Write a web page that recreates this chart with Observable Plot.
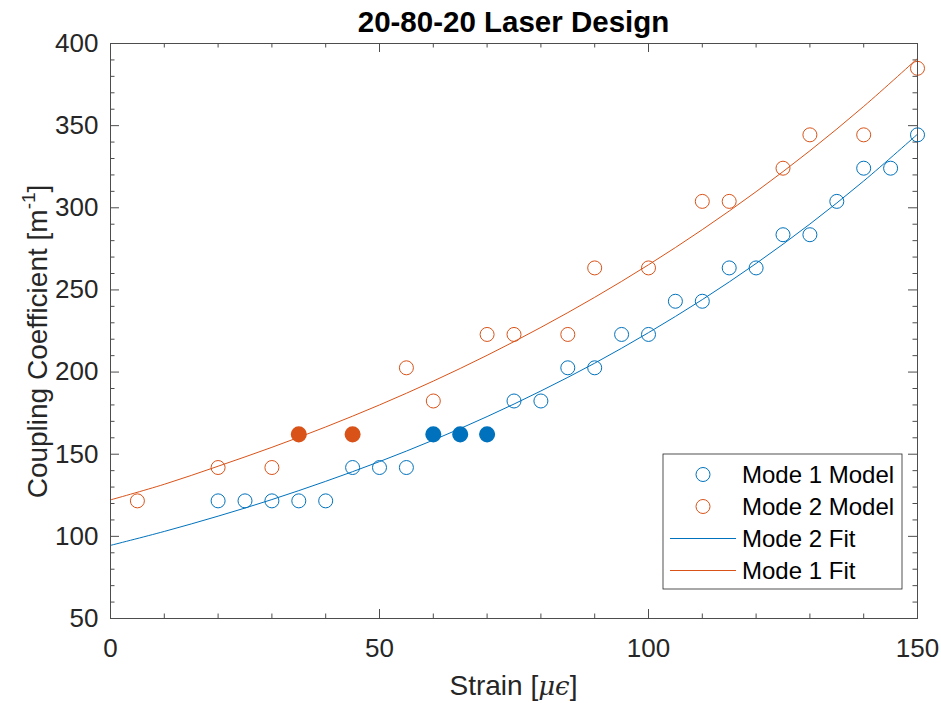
<!DOCTYPE html>
<html>
<head>
<meta charset="utf-8">
<script src="https://cdn.jsdelivr.net/npm/d3@7"></script>
<script src="https://cdn.jsdelivr.net/npm/@observablehq/plot@0.6"></script>
<style>
  body { margin: 0; background: #fff; }
  #chart svg { display: block; }
</style>
</head>
<body>
<div id="chart"></div>
<script>
// ---- texts ----
const titleText = "20-80-20 Laser Design";
const xLabelMain = "Strain [";
const xLabelMath = "μϵ";
const yLabelMain = "Coupling Coefficient [m";
const yLabelSup = "-1";
const legendLabels = ["Mode 1 Model", "Mode 2 Model", "Mode 2 Fit", "Mode 1 Fit"];

// ---- ticks ----
const xTicks = [0, 50, 100, 150];
const xMinorTicks = [10, 20, 30, 40, 60, 70, 80, 90, 110, 120, 130, 140];
const yTicks = [50, 100, 150, 200, 250, 300, 350, 400];
const yMinorTicks = [60, 70, 80, 90, 110, 120, 130, 140, 160, 170, 180, 190, 210, 220, 230, 240,
  260, 270, 280, 290, 310, 320, 330, 340, 360, 370, 380, 390];

// ---- Mode 1 model (blue, open) ----
const mode1Strain = [20, 25, 30, 35, 40, 45, 50, 55, 75, 80, 85, 90, 95, 100, 105, 110, 115, 120, 125, 130, 135, 140, 145, 150];
const mode1Coupling = [121.6, 121.6, 121.6, 121.6, 121.6, 141.9, 141.9, 141.9, 182.4, 182.4, 202.6, 202.6, 222.9, 222.9,
  243.1, 243.1, 263.4, 263.4, 283.6, 283.6, 303.9, 324.1, 324.1, 344.4];
// Mode 1 highlighted (filled)
const mode1HiStrain = [60, 65, 70];
const mode1HiCoupling = [162.1, 162.1, 162.1];

// ---- Mode 2 model (orange, open) ----
const mode2Strain = [5, 20, 30, 55, 60, 70, 75, 85, 90, 100, 110, 115, 125, 130, 140, 150];
const mode2Coupling = [121.6, 141.9, 141.9, 202.6, 182.4, 222.9, 222.9, 222.9, 263.4, 263.4, 303.9, 303.9, 324.1, 344.4, 344.4, 384.9];
// Mode 2 highlighted (filled)
const mode2HiStrain = [35, 45];
const mode2HiCoupling = [162.1, 162.1];

// ---- fit curves ----
const fitStrain = [0, 10, 20, 30, 40, 50, 60, 70, 80, 90, 100, 110, 120, 130, 140, 150];
const fitBlue = [94.5, 103.0, 112.3, 122.4, 133.5, 145.5, 158.6, 172.9, 188.5, 205.4, 224.0, 244.1, 266.1, 290.1, 316.3, 344.8];
const fitOrange = [122.2, 131.7, 142.7, 154.2, 166.6, 180.0, 194.5, 210.2, 227.2, 245.5, 265.3, 286.7, 309.8, 334.7, 361.7, 390.9];

// ---- colours ----
const blue = "#0072BD";
const orange = "#D95319";
const ink = "#262626";
const axisInk = "#4d4d4d";
const font = "'Liberation Sans', Arial, Helvetica, sans-serif";

// ---- tables ----
const zipPts = (xs, ys) => xs.map((x, i) => ({x, y: ys[i]}));
const m1 = zipPts(mode1Strain, mode1Coupling);
const m1h = zipPts(mode1HiStrain, mode1HiCoupling);
const m2 = zipPts(mode2Strain, mode2Coupling);
const m2h = zipPts(mode2HiStrain, mode2HiCoupling);
const fB = zipPts(fitStrain, fitBlue);
const fO = zipPts(fitStrain, fitOrange);

const W = 941, H = 703;
const mL = 110, mR = 24, mT = 43, mB = 85;
const innerH = H - mT - mB, innerW = W - mL - mR;
const majorLen = 9, minorLen = 4.5;

const chart = Plot.plot({
  width: W,
  height: H,
  marginLeft: mL,
  marginRight: mR,
  marginTop: mT,
  marginBottom: mB,
  style: {fontFamily: font, background: "#fff"},
  x: {domain: [0, 150], label: null},
  y: {domain: [50, 400], label: null},
  marks: [
    // tick labels
    Plot.axisX({ticks: xTicks, tickSize: 0, tickPadding: 20, fontSize: 26, color: ink, label: null}),
    Plot.axisY({ticks: yTicks, tickSize: 0, tickPadding: 12, fontSize: 26, color: ink, label: null}),
    // inward ticks: bottom / top
    Plot.tickX(xTicks, {x: d => d, insetTop: innerH - majorLen, stroke: axisInk}),
    Plot.tickX(xMinorTicks, {x: d => d, insetTop: innerH - minorLen, stroke: axisInk}),
    Plot.tickX(xTicks, {x: d => d, insetBottom: innerH - majorLen, stroke: axisInk}),
    Plot.tickX(xMinorTicks, {x: d => d, insetBottom: innerH - minorLen, stroke: axisInk}),
    // inward ticks: left / right
    Plot.tickY(yTicks, {y: d => d, insetRight: innerW - majorLen, stroke: axisInk}),
    Plot.tickY(yMinorTicks, {y: d => d, insetRight: innerW - minorLen, stroke: axisInk}),
    Plot.tickY(yTicks, {y: d => d, insetLeft: innerW - majorLen, stroke: axisInk}),
    Plot.tickY(yMinorTicks, {y: d => d, insetLeft: innerW - minorLen, stroke: axisInk}),
    // data
    Plot.dot(m1, {x: "x", y: "y", r: 7, stroke: blue, strokeWidth: 1, fill: "none"}),
    Plot.dot(m2, {x: "x", y: "y", r: 7, stroke: orange, strokeWidth: 1, fill: "none"}),
    Plot.line(fB, {x: "x", y: "y", stroke: blue, strokeWidth: 1, curve: "catmull-rom"}),
    Plot.line(fO, {x: "x", y: "y", stroke: orange, strokeWidth: 1, curve: "catmull-rom"}),
    Plot.dot(m1h, {x: "x", y: "y", r: 7.3, stroke: blue, fill: blue}),
    Plot.dot(m2h, {x: "x", y: "y", r: 7.3, stroke: orange, fill: orange}),
    Plot.frame({stroke: axisInk, strokeWidth: 1})
  ]
});

document.getElementById("chart").appendChild(chart);

// ---- title & axis labels ----
const svg = d3.select(chart);
const xs = chart.scale("x"), ys = chart.scale("y");
const cx = (xs.apply(0) + xs.apply(150)) / 2;
const cy = (ys.apply(50) + ys.apply(400)) / 2;

svg.append("text")
  .attr("x", cx).attr("y", 32)
  .attr("text-anchor", "middle")
  .attr("font-family", font).attr("font-weight", "bold").attr("font-size", 29.5)
  .attr("fill", "#000")
  .text(titleText);

const xl = svg.append("text")
  .attr("x", cx).attr("y", 695)
  .attr("text-anchor", "middle")
  .attr("font-family", font).attr("font-size", 28).attr("fill", ink);
xl.append("tspan").text(xLabelMain);
xl.append("tspan").attr("font-family", "'DejaVu Serif', 'Liberation Serif', serif").attr("font-style", "italic").attr("font-size", 26).text(xLabelMath);
xl.append("tspan").text("]");

const yl = svg.append("text")
  .attr("transform", `translate(47,${cy + 11}) rotate(-90)`)
  .attr("text-anchor", "middle")
  .attr("font-family", font).attr("font-size", 28).attr("fill", ink);
yl.append("tspan").text(yLabelMain);
yl.append("tspan").attr("dy", -12).attr("font-size", 19).text(yLabelSup);
yl.append("tspan").attr("dy", 12).text("]");

// ---- legend ----
const lg = svg.append("g").attr("font-family", font).attr("font-size", 24).attr("fill", "#000")
  .attr("text-anchor", "start");
lg.append("rect").attr("x", 663).attr("y", 454).attr("width", 239).attr("height", 135)
  .attr("fill", "#fff").attr("stroke", ink).attr("stroke-width", 0.8);
const rowsY = [474.5, 506.5, 538.5, 570.5];
const legendKinds = [
  {kind: "dot", color: blue},
  {kind: "dot", color: orange},
  {kind: "line", color: blue},
  {kind: "line", color: orange}
];
legendKinds.forEach((k, i) => {
  const y = rowsY[i];
  if (k.kind === "dot") {
    lg.append("circle").attr("cx", 703).attr("cy", y).attr("r", 7)
      .attr("fill", "none").attr("stroke", k.color).attr("stroke-width", 1);
  } else {
    lg.append("line").attr("x1", 670).attr("x2", 736).attr("y1", y).attr("y2", y)
      .attr("stroke", k.color).attr("stroke-width", 1);
  }
  lg.append("text").attr("x", 742).attr("y", y).attr("dy", "0.35em")
    .attr("text-anchor", "start").attr("fill", "#000").text(legendLabels[i]);
});
</script>
</body>
</html>
